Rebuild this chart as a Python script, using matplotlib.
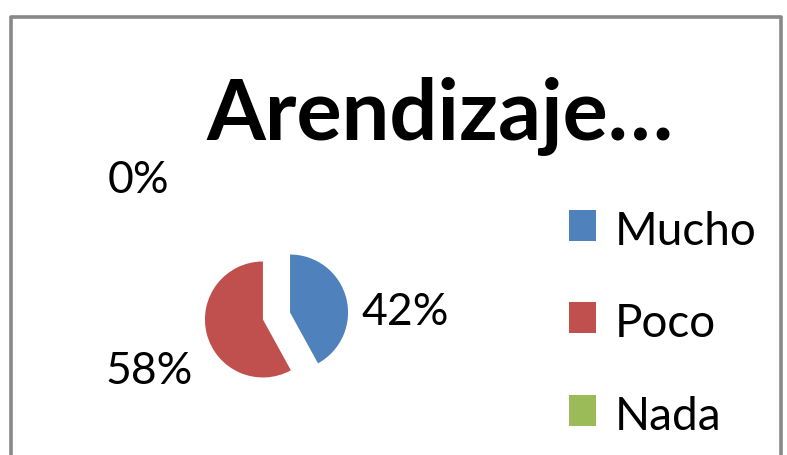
import matplotlib
matplotlib.use('Agg')
import matplotlib.pyplot as plt
from matplotlib.patches import Rectangle

# data
categories = ['Mucho', 'Poco', 'Nada']
values = [42, 58, 0]
pct_labels = ['42%', '58%', '0%']
colors = ['#4f81bd', '#c0504d', '#9bbb59']
title = 'Arendizaje…'

W, H = 787, 455
fig = plt.figure(figsize=(W / 100, H / 100), dpi=100)
ax = fig.add_axes([0, 0, 1, 1])

def py(y):
    # image pixel row -> axes y
    return H - y

# chart border (bottom edge is cut off)
ax.plot([10.5, 10.5, 781, 781], [py(470), py(17), py(17), py(470)],
        color='#898989', linewidth=2.6, solid_joinstyle='round', clip_on=False)

# explode is in data units (pixels here)
ax.pie(values, colors=colors, startangle=90, counterclock=False,
       explode=[14, 14, 14], center=(276.5, py(316)), radius=58,
       frame=True)
ax.set_xlim(0, W)
ax.set_ylim(0, H)
ax.set_aspect('equal')
ax.axis('off')

font = 'Lato'
fs = 32

ax.text(206, py(139), title, fontsize=61, fontweight='bold', family=font,
        ha='left', va='baseline')

# percentage labels
label_pos = [(361, 325), (105, 384), (108, 193)]
for lab, (x, y) in zip(pct_labels, label_pos):
    ax.text(x, py(y), lab, fontsize=fs, family=font, ha='left', va='baseline')

# legend
legend_y = [245, 337, 430]
for name, c, y in zip(categories, colors, legend_y):
    ax.add_patch(Rectangle((569, py(y - 4)), 27, 31, facecolor=c, edgecolor='none'))
    ax.text(615, py(y), name, fontsize=33, family=font, ha='left', va='baseline')

fig.savefig('out.png', dpi=100)
